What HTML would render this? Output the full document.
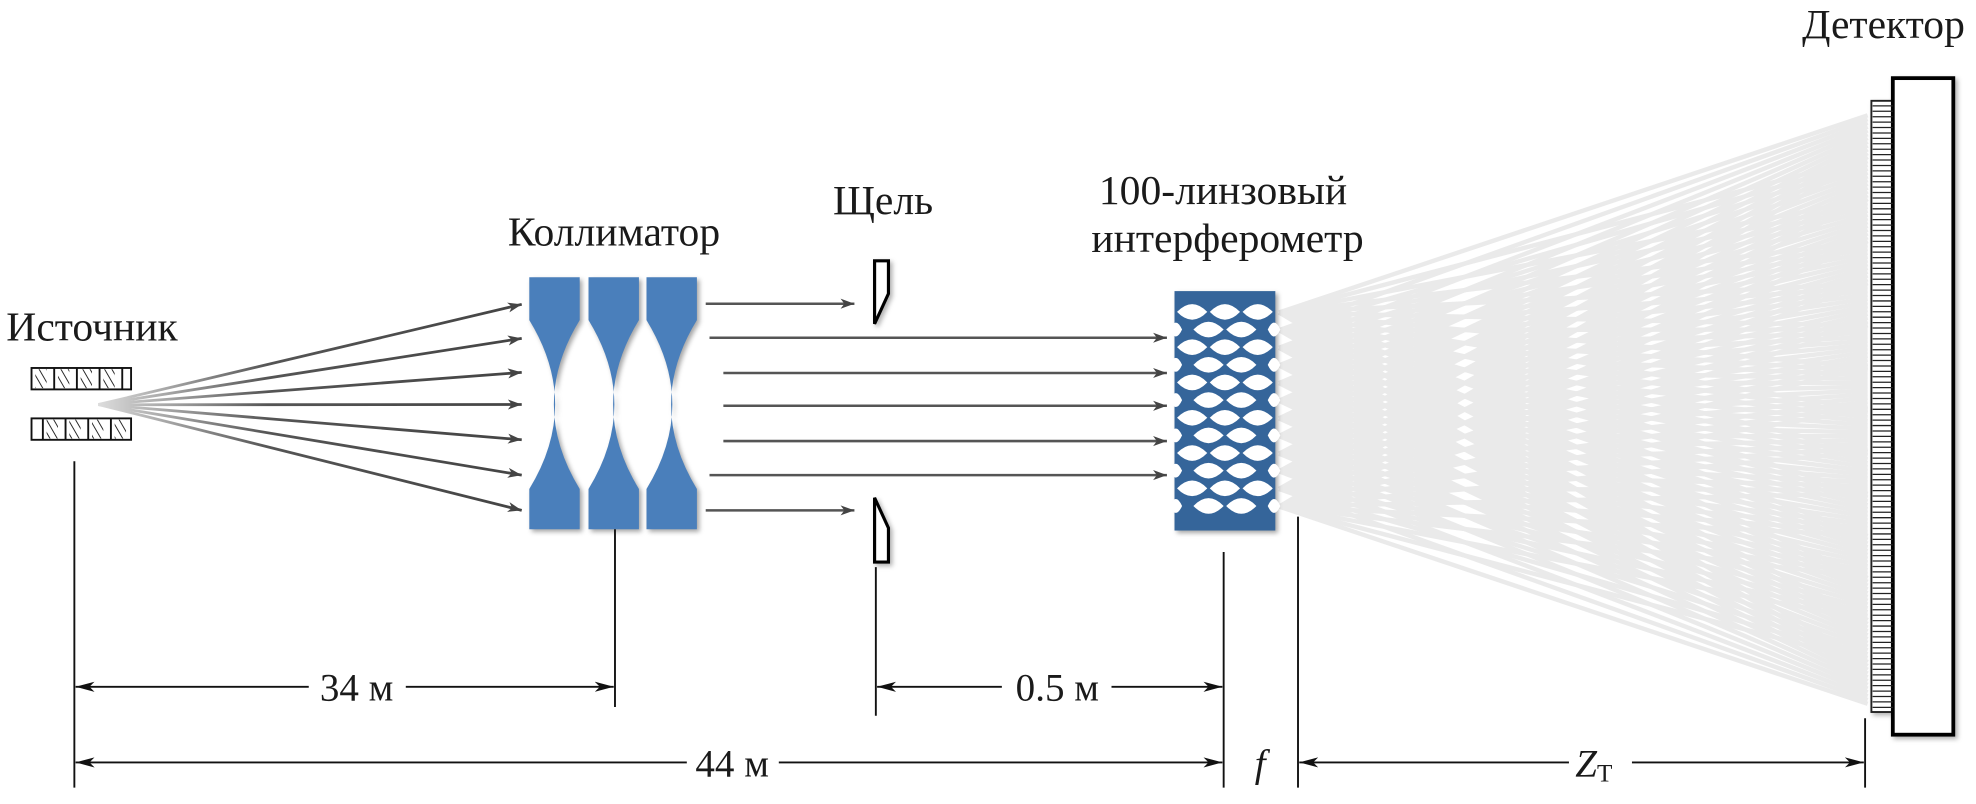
<!DOCTYPE html>
<html><head><meta charset="utf-8"><style>
html,body{margin:0;padding:0;background:#fff;}
svg{display:block;}
text{font-family:"Liberation Serif",serif;fill:#1a1a1a;}
</style></head><body>
<svg width="1976" height="804" viewBox="0 0 1568 638" xmlns="http://www.w3.org/2000/svg">
<defs>
<marker id="ah" markerWidth="12" markerHeight="10" refX="11" refY="5" orient="auto" markerUnits="userSpaceOnUse">
<path d="M0,1 L11,5 L0,9 L3,5 Z" fill="#444"/></marker>
<marker id="dh" markerWidth="16" markerHeight="10" refX="15" refY="5" orient="auto" markerUnits="userSpaceOnUse">
<path d="M0,1 L15,5 L0,9 L4,5 Z" fill="#111"/></marker>
<marker id="dt" markerWidth="16" markerHeight="10" refX="1" refY="5" orient="auto" markerUnits="userSpaceOnUse">
<path d="M16,1 L1,5 L16,9 L12,5 Z" fill="#111"/></marker>
<pattern id="hatch" width="5" height="5" patternUnits="userSpaceOnUse" patternTransform="rotate(-30)">
<rect width="5" height="5" fill="#fff"/><line x1="0" y1="0" x2="0" y2="5" stroke="#222" stroke-width="1.5"/></pattern>
<linearGradient id="fade" x1="0" x2="1" y1="0" y2="0"><stop offset="0" stop-color="#ddd"/><stop offset="0.4" stop-color="#555"/><stop offset="1" stop-color="#444"/></linearGradient>
</defs>

<text x="5" y="270" font-size="33">Источник</text>
<text x="403" y="195" font-size="33">Коллиматор</text>
<text x="661" y="170" font-size="33">Щель</text>
<text x="872" y="162" font-size="33">100-линзовый</text>
<text x="866" y="200" font-size="33">интерферометр</text>
<text x="1430" y="30" font-size="33">Детектор</text>

<g stroke="#111" stroke-width="1.5">
<rect x="25" y="292" width="79" height="17" fill="#fff"/>
<rect x="28" y="293" width="9" height="15" fill="url(#hatch)" stroke="none"/>
<rect x="46" y="293" width="9" height="15" fill="url(#hatch)" stroke="none"/>
<rect x="64" y="293" width="9" height="15" fill="url(#hatch)" stroke="none"/>
<rect x="82" y="293" width="9" height="15" fill="url(#hatch)" stroke="none"/>
<line x1="43" y1="292" x2="43" y2="309"/><line x1="61" y1="292" x2="61" y2="309"/><line x1="79" y1="292" x2="79" y2="309"/><line x1="97" y1="292" x2="97" y2="309"/>
<rect x="25" y="332" width="79" height="17" fill="#fff"/>
<rect x="37" y="333" width="9" height="15" fill="url(#hatch)" stroke="none"/>
<rect x="55" y="333" width="9" height="15" fill="url(#hatch)" stroke="none"/>
<rect x="73" y="333" width="9" height="15" fill="url(#hatch)" stroke="none"/>
<rect x="91" y="333" width="9" height="15" fill="url(#hatch)" stroke="none"/>
<line x1="34" y1="332" x2="34" y2="349"/><line x1="52" y1="332" x2="52" y2="349"/><line x1="70" y1="332" x2="70" y2="349"/><line x1="88" y1="332" x2="88" y2="349"/>
</g>

<g stroke="url(#fade)" stroke-width="2.2" fill="none" marker-end="url(#ah)">
<path d="M78,321 L414,241.5"/><path d="M78,321 L414,268.5"/><path d="M78,321 L414,295.5"/><path d="M78,321.2 L414,321"/>
<path d="M78,321 L414,349"/><path d="M78,321 L414,377"/><path d="M78,321 L414,405"/>
</g>

<g fill="#4a7fbb" style="filter:drop-shadow(2px 2px 2px rgba(0,0,0,0.35))">
<path d="M420,220 L460,220 L460,254 Q419,321 460,388 L460,420 L420,420 L420,388 Q461,321 420,254 Z"/>
<path d="M467,220 L507,220 L507,254 Q466,321 507,388 L507,420 L467,420 L467,388 Q508,321 467,254 Z"/>
<path d="M513,220 L553,220 L553,254 Q512,321 553,388 L553,420 L513,420 L513,388 Q554,321 513,254 Z"/>
</g>

<g stroke="#555" stroke-width="2" fill="none" marker-end="url(#ah)">
<line x1="560" y1="241" x2="678" y2="241"/>
<line x1="563" y1="268" x2="926" y2="268"/>
<line x1="574" y1="296" x2="926" y2="296"/>
<line x1="574" y1="322" x2="926" y2="322"/>
<line x1="574" y1="350" x2="926" y2="350"/>
<line x1="563" y1="377" x2="926" y2="377"/>
<line x1="560" y1="405" x2="678" y2="405"/>
</g>

<g fill="#fff" stroke="#000" stroke-width="2.5" style="filter:drop-shadow(2px 2px 2px rgba(0,0,0,0.3))">
<path d="M694,207 L705,207 L705,233 L694,257 Z"/>
<path d="M694,395 L705,419 L705,446 L694,446 Z"/>
</g>

<g stroke="#999" stroke-width="3.5" opacity="0.2" fill="none" id="fan"></g>

<g style="filter:drop-shadow(2px 2px 2px rgba(0,0,0,0.35))">
<rect x="932" y="231" width="80" height="190" fill="#35659a"/>
</g>
<g fill="#fff" id="holes"></g>

<g style="filter:drop-shadow(2px 2px 2px rgba(0,0,0,0.3))">
<rect x="1485" y="80" width="17" height="485" fill="#fff" stroke="#222" stroke-width="1.5"/>
<rect x="1502" y="62" width="48" height="521" fill="#fff" stroke="#000" stroke-width="3"/>
</g>
<g stroke="#222" stroke-width="1" id="dlines"></g>

<g stroke="#111" stroke-width="1.5">
<line x1="59" y1="366" x2="59" y2="625"/>
<line x1="488" y1="420" x2="488" y2="561"/>
<line x1="695" y1="450" x2="695" y2="568"/>
<line x1="971" y1="438" x2="971" y2="625"/>
<line x1="1030" y1="410" x2="1030" y2="625"/>
<line x1="1480" y1="570" x2="1480" y2="625"/>
</g>
<g stroke="#111" stroke-width="1.5" fill="none">
<line x1="60" y1="545" x2="245" y2="545" marker-start="url(#dt)"/>
<line x1="322" y1="545" x2="487" y2="545" marker-end="url(#dh)"/>
<line x1="696" y1="545" x2="795" y2="545" marker-start="url(#dt)"/>
<line x1="882" y1="545" x2="970" y2="545" marker-end="url(#dh)"/>
<line x1="60" y1="605" x2="545" y2="605" marker-start="url(#dt)"/>
<line x1="618" y1="605" x2="970" y2="605" marker-end="url(#dh)"/>
<line x1="1031" y1="605" x2="1245" y2="605" marker-start="url(#dt)"/>
<line x1="1295" y1="605" x2="1479" y2="605" marker-end="url(#dh)"/>
</g>
<text x="283" y="556" font-size="31" text-anchor="middle">34 м</text>
<text x="839" y="556" font-size="31" text-anchor="middle">0.5 м</text>
<text x="581" y="616" font-size="31" text-anchor="middle">44 м</text>
<text x="1000" y="616" font-size="31" font-style="italic" text-anchor="middle">f</text>
<text x="1250" y="616" font-size="31" font-style="italic">Z<tspan font-size="20" font-style="normal" dy="4">T</tspan></text>

<script>
var ns="http://www.w3.org/2000/svg";
var fan=document.getElementById("fan");
for(var i=0;i<12;i++){var y0=248+i*14;
 for(var j=0;j<14;j++){var y1=108+j*(434/13)+(i-5.5)*3;
  var l=document.createElementNS(ns,"line");l.setAttribute("x1",1015);l.setAttribute("y1",y0);l.setAttribute("x2",1482);l.setAttribute("y2",y1);fan.appendChild(l);}}
var h=document.getElementById("holes");
function lens(cx,cy,rx,ry){var p=document.createElementNS(ns,"path");
 p.setAttribute("d","M"+(cx-rx)+","+cy+" Q"+cx+","+(cy-2*ry)+" "+(cx+rx)+","+cy+" Q"+cx+","+(cy+2*ry)+" "+(cx-rx)+","+cy+" Z");h.appendChild(p);}
for(var r=0;r<12;r++){var cy=247.5+r*14;
 if(r%2==0){[946,972,998].forEach(function(cx){lens(cx,cy,12,6.2);});}
 else{[959,985].forEach(function(cx){lens(cx,cy,12,6.2);});lens(933,cy,5,5.5);lens(1011,cy,5,5.5);}}
var d=document.getElementById("dlines");
for(var y=84;y<563;y+=4.3){var l=document.createElementNS(ns,"line");l.setAttribute("x1",1486);l.setAttribute("x2",1502);l.setAttribute("y1",y);l.setAttribute("y2",y);d.appendChild(l);}
</script>
</svg>
</body></html>
